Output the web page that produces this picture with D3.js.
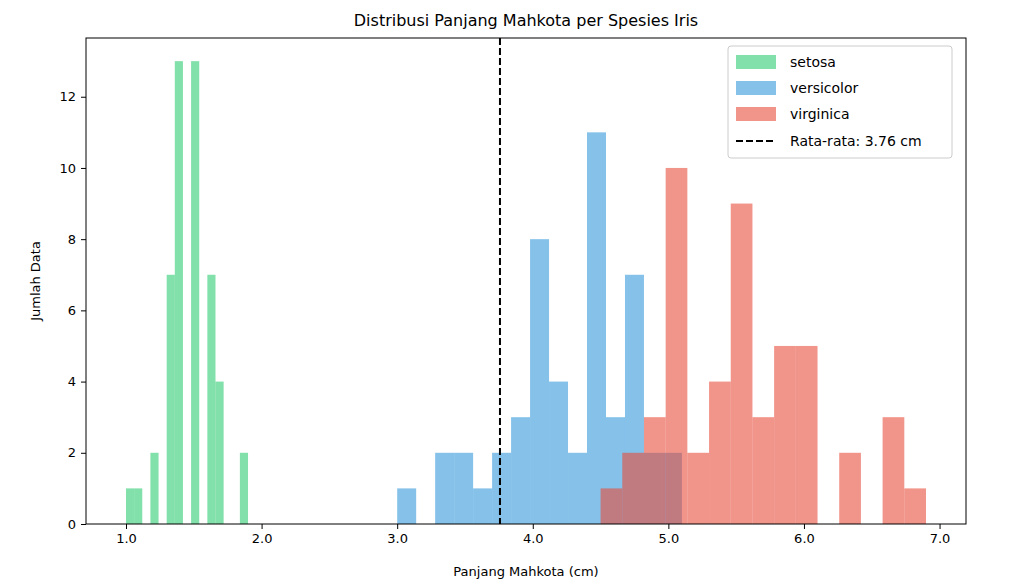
<!DOCTYPE html>
<html><head><meta charset="utf-8">
<script src="https://cdn.jsdelivr.net/npm/d3@7"></script>
<style>body{margin:0;background:#fff}text{font-family:"DejaVu Sans",sans-serif}</style>
</head><body>
<svg id="c" width="1024" height="584"></svg>
<script>
// bin start, bin width, counts
const species = ["setosa", "versicolor", "virginica"]
const binStart = [1.0, 3.0, 4.5]
const binWidth = [0.06, 0.14, 0.16]
const setosaCounts = [1,1,0,2,0,7,13,0,13,0,7,4,0,0,2]
const versicolorCounts = [1,0,2,2,1,2,3,8,4,2,11,3,7,2,2]
const virginicaCounts = [1,2,3,10,2,4,9,3,5,5,0,2,0,3,1]
const colors = ["#2ecc71", "#3498db", "#e74c3c"]
const meanValue = 3.758
const xTicks = [1,2,3,4,5,6,7]
const yTicks = [0,2,4,6,8,10,12]

const counts = [setosaCounts, versicolorCounts, virginicaCounts]
const svg = d3.select("#c")
const L = 86, R = 966, T = 38, B = 524
const x = d3.scaleLinear().domain([0.705, 7.195]).range([L, R])
const y = d3.scaleLinear().domain([0, 13.65]).range([B, T])

species.forEach((s, i) => {
  const bins = counts[i].map((c, k) => ({x0: binStart[i] + k*binWidth[i], x1: binStart[i] + (k+1)*binWidth[i], c}))
  svg.append("g").selectAll("rect").data(bins.filter(d => d.c > 0)).join("rect")
    .attr("x", d => x(d.x0)).attr("width", d => x(d.x1) - x(d.x0))
    .attr("y", d => y(d.c)).attr("height", d => y(0) - y(d.c))
    .attr("fill", colors[i]).attr("fill-opacity", 0.6)
})

svg.append("line").attr("x1", x(meanValue)).attr("x2", x(meanValue)).attr("y1", T).attr("y2", B)
  .attr("stroke", "#000").attr("stroke-width", 2).attr("stroke-dasharray", "7,3")

const xa = svg.append("g").attr("transform", `translate(0,${B})`).call(d3.axisBottom(x).tickValues(xTicks).tickSizeOuter(0).tickSize(5).tickPadding(5))
const ya = svg.append("g").attr("transform", `translate(${L},0)`).call(d3.axisLeft(y).tickValues(yTicks).tickSizeOuter(0).tickSize(5).tickPadding(5))
;[xa, ya].forEach(a => { a.select(".domain").remove(); a.selectAll("text").attr("font-size", 13).attr("fill", "#000"); a.selectAll("line").attr("stroke", "#000") })
svg.append("rect").attr("x", L).attr("y", T).attr("width", R-L).attr("height", B-T).attr("fill", "none").attr("stroke", "#000")

svg.append("text").attr("x", (L+R)/2).attr("y", 26).attr("text-anchor", "middle").attr("font-size", 16).text("Distribusi Panjang Mahkota per Spesies Iris")
svg.append("text").attr("x", (L+R)/2).attr("y", 576).attr("text-anchor", "middle").attr("font-size", 13).text("Panjang Mahkota (cm)")
svg.append("text").attr("transform", `translate(40,${(T+B)/2}) rotate(-90)`).attr("text-anchor", "middle").attr("font-size", 13).text("Jumlah Data")

// legend
const lg = svg.append("g").attr("transform", "translate(728,46)")
lg.append("rect").attr("width", 224).attr("height", 112).attr("rx", 3).attr("fill", "#fff").attr("fill-opacity", 0.8).attr("stroke", "#ccc")
species.forEach((s, i) => {
  lg.append("rect").attr("x", 8).attr("y", 9 + i*26).attr("width", 40).attr("height", 14).attr("fill", colors[i]).attr("fill-opacity", 0.6)
  lg.append("text").attr("x", 62).attr("y", 21 + i*26).attr("font-size", 14).text(s)
})
lg.append("line").attr("x1", 8).attr("x2", 48).attr("y1", 95).attr("y2", 95).attr("stroke", "#000").attr("stroke-width", 2).attr("stroke-dasharray", "7,3")
lg.append("text").attr("x", 62).attr("y", 100).attr("font-size", 14).text("Rata-rata: 3.76 cm")
</script>
</body></html>
